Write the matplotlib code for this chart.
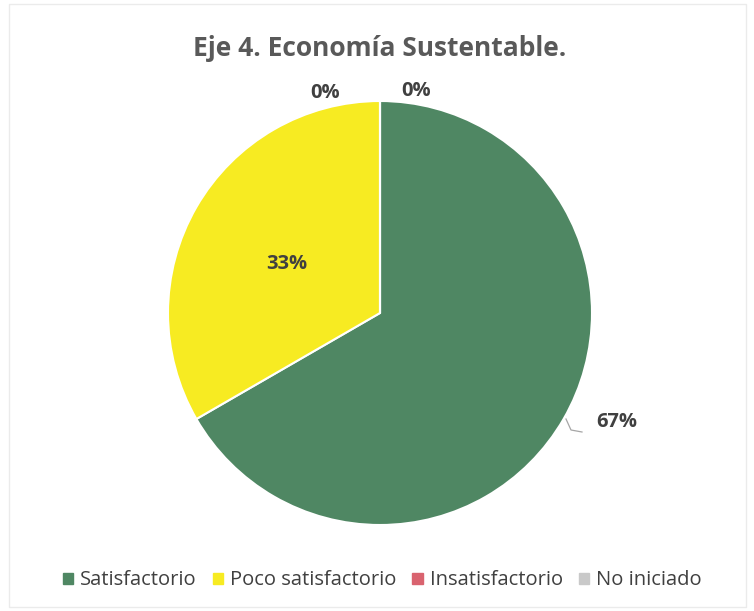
import numpy as np
import matplotlib.pyplot as plt
import matplotlib.patches as mpatches
from matplotlib import font_manager

categories = ["Satisfactorio", "Poco satisfactorio", "Insatisfactorio", "No iniciado"]
values = [2, 1, 0, 0]
pct_labels = ["67%", "33%", "0%", "0%"]
colors = ["#4F8763", "#F7EB22", "#D9636F", "#C9C9C9"]

names = {f.name for f in font_manager.fontManager.ttflist}
FONT = "Liberation Sans Narrow" if "Liberation Sans Narrow" in names else "Open Sans"

fig = plt.figure(figsize=(7.54, 6.11), dpi=100)
ax = fig.add_axes([0, 0, 1, 1])

R = 212
wedges, _ = ax.pie(values, colors=colors, startangle=90, counterclock=False,
                   radius=R, wedgeprops=dict(edgecolor="white", linewidth=1.5))
ax.set_xlim(-380, 374)
ax.set_ylim(-298, 313)
ax.set_aspect("equal")
ax.axis("off")

# label positions
lbl = dict(ha="center", va="center", fontsize=14.5, fontweight="bold",
           color="#404040", family=FONT)
ax.text(237, -109, pct_labels[0], **lbl)
ax.plot([186, 191, 202], [-106, -117, -119], color="#A6A6A6", lw=0.9)
ax.text(-93, 49, pct_labels[1], **lbl)
ax.text(-55, 220, pct_labels[2], **lbl)
ax.text(36, 222, pct_labels[3], **lbl)

fig.text(0.503, 0.92, "Eje 4. Economía Sustentable.", ha="center", va="center",
         fontsize=19, fontweight="bold", color="#595959", family=FONT)

handles = [mpatches.Patch(color=c, label=n) for c, n in zip(colors, categories)]
leg = fig.legend(handles=handles, loc="center", bbox_to_anchor=(0.507, 0.05), ncol=4,
                 frameon=False, handlelength=0.5, handleheight=0.5, handletextpad=0.35,
                 columnspacing=0.8, prop={"family": FONT, "size": 14.5})
for t in leg.get_texts():
    t.set_color("#404040")

fig.patches.append(mpatches.Rectangle((0.012, 0.006), 0.978, 0.988, transform=fig.transFigure,
                                      fill=False, edgecolor="#EBEBEB", lw=1))

fig.savefig("out.png", dpi=100, facecolor="white")
